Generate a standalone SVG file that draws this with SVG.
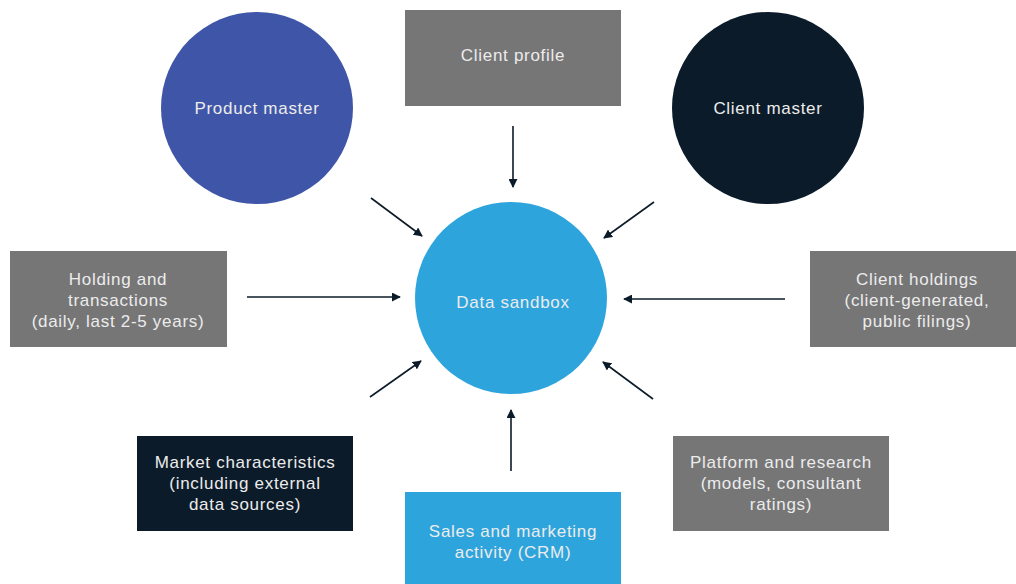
<svg xmlns="http://www.w3.org/2000/svg" width="1016" height="584" viewBox="0 0 1016 584">
<style>
text{font-family:"Liberation Sans",Arial,sans-serif;font-size:17px;letter-spacing:0.7px;fill:#ececec;text-anchor:middle}
.gray{fill:#767677}
.navy{fill:#0b1b29}
.blue{fill:#3f56a8}
.sky{fill:#2ea4dc}
.conn line{stroke:#0b1b29;stroke-width:1.6;marker-end:url(#ah)}
</style>
<defs>
<marker id="ah" viewBox="0 0 10 10" refX="9" refY="5" markerWidth="9" markerHeight="9" markerUnits="userSpaceOnUse" orient="auto"><path d="M0,0 L10,5 L0,10 z" fill="#0b1b29"/></marker>
</defs>
<rect width="1016" height="584" fill="#fff"/>
<g id="product-master"><circle class="blue" cx="257" cy="108" r="96"/><text x="257" y="114">Product master</text></g>
<g id="client-profile"><rect class="gray" x="405" y="10" width="216" height="96"/><text x="513" y="61">Client profile</text></g>
<g id="client-master"><circle class="navy" cx="768" cy="108" r="96"/><text x="768" y="114">Client master</text></g>
<g id="holding"><rect class="gray" x="10" y="251" width="217" height="96"/><text x="118" y="285">Holding and</text><text x="118" y="306">transactions</text><text x="118" y="327">(daily, last 2-5 years)</text></g>
<g id="data-sandbox"><circle class="sky" cx="511" cy="298" r="96"/><text x="513" y="308">Data sandbox</text></g>
<g id="client-holdings"><rect class="gray" x="810" y="251" width="206" height="96"/><text x="917" y="285">Client holdings</text><text x="917" y="306">(client-generated,</text><text x="917" y="327">public filings)</text></g>
<g id="market"><rect class="navy" x="137" y="436" width="216" height="95"/><text x="245" y="468">Market characteristics</text><text x="245" y="489">(including external</text><text x="245" y="510">data sources)</text></g>
<g id="sales"><rect class="sky" x="405" y="492" width="216" height="92"/><text x="513" y="537">Sales and marketing</text><text x="513" y="558">activity (CRM)</text></g>
<g id="platform"><rect class="gray" x="673" y="436" width="216" height="95"/><text x="781" y="468">Platform and research</text><text x="781" y="489">(models, consultant</text><text x="781" y="510">ratings)</text></g>
<g id="connectors" class="conn">
<line x1="513" y1="126" x2="513" y2="187"/>
<line x1="371" y1="198" x2="422" y2="236"/>
<line x1="654" y1="202" x2="604" y2="238"/>
<line x1="247" y1="297" x2="400" y2="297"/>
<line x1="785" y1="299" x2="624" y2="299"/>
<line x1="370" y1="397" x2="421" y2="361"/>
<line x1="511" y1="471" x2="511" y2="410"/>
<line x1="653" y1="399" x2="603" y2="362"/>
</g>
</svg>
